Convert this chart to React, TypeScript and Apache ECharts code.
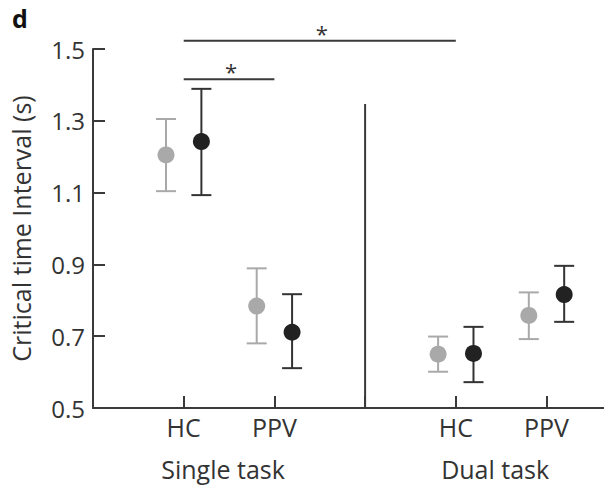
import React, { useEffect, useRef } from "react";
import * as echarts from "echarts";

// ---- data ----
const categoryPositions = [1, 2, 4, 5];
const categoryLabels = ["HC", "PPV", "HC", "PPV"];
const groupLabels = ["Single task", "Dual task"];
const yTicks = [0.5, 0.7, 0.9, 1.1, 1.3, 1.5];

const grayMean = [1.205, 0.784, 0.65, 0.758];
const grayUpper = [1.305, 0.889, 0.699, 0.822];
const grayLower = [1.104, 0.68, 0.601, 0.692];

const blackMean = [1.242, 0.711, 0.652, 0.816];
const blackUpper = [1.389, 0.817, 0.726, 0.896];
const blackLower = [1.093, 0.611, 0.572, 0.74];

const groupOffset = 0.195;
const dividerX = 3;
const dividerTop = 1.347;
// significance brackets: [xStart, xEnd, yLevel]
const sigBrackets = [
  [1, 4, 1.523],
  [1, 2, 1.416],
];

const FONT = "'Open Sans', 'Noto Sans', sans-serif";
const GRAY = "#a9a9a9";
const BLACK = "#222222";
const AXIS = "#3a3a3a";

function errorBarSeries(
  lower: number[],
  upper: number[],
  offset: number,
  color: string
) {
  return {
    type: "custom",
    data: categoryPositions.map((x, i) => [x + offset, lower[i], upper[i]]),
    encode: { x: 0, y: [1, 2] },
    renderItem: (params: any, api: any) => {
      const x = api.value(0);
      const lo = api.coord([x, api.value(1)]);
      const hi = api.coord([x, api.value(2)]);
      const hw = 10;
      const style = { stroke: color, lineWidth: 2 };
      return {
        type: "group",
        children: [
          { type: "line", shape: { x1: lo[0], y1: lo[1], x2: hi[0], y2: hi[1] }, style },
          { type: "line", shape: { x1: hi[0] - hw, y1: hi[1], x2: hi[0] + hw, y2: hi[1] }, style },
          { type: "line", shape: { x1: lo[0] - hw, y1: lo[1], x2: lo[0] + hw, y2: lo[1] }, style },
        ],
      };
    },
    z: 2,
  };
}

function pointSeries(mean: number[], offset: number, color: string) {
  return {
    type: "scatter",
    data: categoryPositions.map((x, i) => [x + offset, mean[i]]),
    symbol: "circle",
    symbolSize: 17,
    itemStyle: { color, opacity: 1 },
    z: 3,
  };
}

export default function App() {
  const ref = useRef<HTMLDivElement>(null);
  useEffect(() => {
    document.body.style.margin = "0";
    const chart = echarts.init(ref.current!, null, { renderer: "svg" });
    const labelMap: Record<string, string> = {};
    categoryPositions.forEach((p, i) => (labelMap[String(p)] = categoryLabels[i]));
    const option = {
      animation: false,
      backgroundColor: "#ffffff",
      grid: { left: 88, right: -4, top: 49, bottom: 79, containLabel: false },
      xAxis: {
        type: "value",
        min: 0,
        max: 5.634,
        interval: 1,
        splitLine: { show: false },
        axisLine: { show: true, lineStyle: { color: AXIS, width: 2 } },
        axisTick: { show: true, inside: true, length: 12, lineStyle: { color: AXIS, width: 2 } },
        axisLabel: {
          formatter: (v: number) => labelMap[String(v)] || "",
          fontFamily: FONT,
          fontSize: 25,
          color: "#333",
          margin: 6,
          showMaxLabel: false,
        },
      },
      yAxis: {
        type: "value",
        min: 0.5,
        max: 1.5,
        interval: 0.2,
        splitLine: { show: false },
        axisLine: { show: true, lineStyle: { color: AXIS, width: 2 } },
        axisTick: { show: true, inside: true, length: 12, lineStyle: { color: AXIS, width: 2 } },
        axisLabel: {
          formatter: (v: number) => {
            const m = yTicks.find((t) => Math.abs(t - v) < 1e-6);
            return m !== undefined ? m.toFixed(1) : "";
          },
          fontFamily: FONT,
          fontSize: 24,
          color: "#333",
          margin: 8,
        },
        name: "Critical time Interval (s)",
        nameLocation: "middle",
        nameGap: 60,
        nameTextStyle: { fontFamily: FONT, fontSize: 25, color: "#333" },
      },
      graphic: [
        {
          type: "text",
          left: 12,
          top: 5,
          style: { text: "d", fontFamily: FONT, fontSize: 25, fontWeight: "bold", fill: "#111" },
        },
      ],
      series: [
        {
          type: "custom",
          data: [[dividerX, 0.5, dividerTop]],
          encode: { x: 0, y: [1, 2] },
          renderItem: (params: any, api: any) => {
            const a = api.coord([api.value(0), api.value(1)]);
            const b = api.coord([api.value(0), api.value(2)]);
            return {
              type: "line",
              shape: { x1: a[0], y1: a[1], x2: b[0], y2: b[1] },
              style: { stroke: AXIS, lineWidth: 2 },
            };
          },
          z: 1,
        },
        {
          type: "custom",
          clip: false,
          data: sigBrackets,
          encode: { x: [0, 1], y: 2 },
          renderItem: (params: any, api: any) => {
            const a = api.coord([api.value(0), api.value(2)]);
            const b = api.coord([api.value(1), api.value(2)]);
            return {
              type: "group",
              children: [
                {
                  type: "line",
                  shape: { x1: a[0], y1: a[1], x2: b[0], y2: b[1] },
                  style: { stroke: AXIS, lineWidth: 2 },
                },
                {
                  type: "text",
                  x: (a[0] + b[0]) / 2 + 2,
                  y: a[1] - 8,
                  style: {
                    text: "*",
                    fontFamily: FONT,
                    fontSize: 22,
                    fill: "#333",
                    align: "center",
                    verticalAlign: "middle",
                  },
                },
              ],
            };
          },
          z: 1,
        },
        {
          type: "custom",
          clip: false,
          data: [
            [(categoryPositions[0] + categoryPositions[1]) / 2, 0.5],
            [(categoryPositions[2] + categoryPositions[3]) / 2, 0.5],
          ],
          encode: { x: 0, y: 1 },
          renderItem: (params: any, api: any) => {
            const p = api.coord([api.value(0), api.value(1)]);
            return {
              type: "text",
              x: p[0] - 6,
              y: p[1] + 61,
              style: {
                text: groupLabels[params.dataIndex],
                fontFamily: FONT,
                fontSize: 25,
                fill: "#333",
                align: "center",
                verticalAlign: "middle",
              },
            };
          },
        },
        errorBarSeries(grayLower, grayUpper, -groupOffset, GRAY),
        errorBarSeries(blackLower, blackUpper, groupOffset, "#333333"),
        pointSeries(grayMean, -groupOffset, GRAY),
        pointSeries(blackMean, groupOffset, BLACK),
      ],
    };
    chart.setOption(option as any);
    return () => chart.dispose();
  }, []);
  return <div ref={ref} style={{ width: 604, height: 487 }} />;
}
